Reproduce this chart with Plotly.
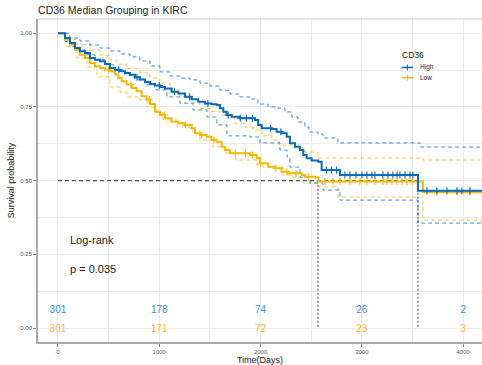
import numpy as np
import plotly.graph_objects as go

title = "CD36 Median Grouping in KIRC"
groups = ["High", "Low"]
colors = {"High": "#0A6BBE", "Low": "#F2BA0A"}
ci_colors = {"High": "rgba(40,130,215,0.9)", "Low": "rgba(245,190,40,0.9)"}

# KM step curves (time in days, survival probability)
high_t = [0, 20, 69, 118, 168, 217, 267, 316, 365, 415, 464, 513, 563, 612, 661, 711, 760, 809, 859, 908, 958,
          1007, 1056, 1122, 1188, 1254, 1320, 1385, 1451, 1517, 1567, 1599, 1632, 1665, 1715, 1797, 1945, 1977,
          2011, 2110, 2159, 2208, 2258, 2290, 2340, 2389, 2422, 2455, 2504, 2570, 2603, 2784, 3554, 4186]
high_s = [1.0, 1.0, 0.984, 0.967, 0.950, 0.939, 0.933, 0.916, 0.910, 0.905, 0.896, 0.882, 0.876, 0.871, 0.865,
          0.859, 0.851, 0.843, 0.835, 0.828, 0.823, 0.818, 0.813, 0.802, 0.796, 0.785, 0.776, 0.768, 0.762, 0.759,
          0.757, 0.746, 0.734, 0.723, 0.717, 0.712, 0.706, 0.689, 0.678, 0.675, 0.666, 0.661, 0.649, 0.627, 0.615,
          0.604, 0.587, 0.576, 0.568, 0.564, 0.536, 0.519, 0.466, 0.466]
high_up_t = [0, 20, 118, 217, 316, 415, 513, 612, 711, 809, 908, 1007, 1106, 1204, 1303, 1402, 1500, 1599, 1698,
             1797, 1895, 1974, 2073, 2172, 2241, 2310, 2369, 2438, 2478, 2567, 2616, 2764, 3574, 4186]
high_up_s = [1.0, 1.0, 0.984, 0.974, 0.960, 0.950, 0.940, 0.930, 0.920, 0.906, 0.889, 0.869, 0.855, 0.848, 0.842,
             0.831, 0.821, 0.807, 0.794, 0.784, 0.777, 0.760, 0.750, 0.746, 0.733, 0.716, 0.699, 0.682, 0.665, 0.658,
             0.645, 0.628, 0.614, 0.614]
high_lo_t = [0, 20, 69, 118, 168, 267, 365, 464, 563, 661, 760, 859, 958, 1076, 1204, 1333, 1471, 1569, 1668, 1895,
             1994, 2191, 2261, 2290, 2389, 2488, 2616, 2784, 3554, 4186]
high_lo_s = [1.0, 1.0, 0.972, 0.955, 0.944, 0.927, 0.910, 0.893, 0.876, 0.859, 0.842, 0.825, 0.808, 0.784, 0.763,
             0.740, 0.716, 0.689, 0.652, 0.648, 0.628, 0.604, 0.580, 0.546, 0.512, 0.492, 0.468, 0.434, 0.356, 0.356]

low_t = [0, 20, 69, 118, 168, 217, 267, 316, 365, 415, 464, 513, 563, 595, 629, 678, 728, 777, 826, 876, 908, 958,
         1007, 1056, 1122, 1188, 1254, 1320, 1352, 1402, 1468, 1517, 1567, 1616, 1649, 1698, 1895, 1962, 1994, 2076,
         2142, 2208, 2273, 2406, 2438, 2537, 2570, 3603, 4186]
low_s = [1.0, 1.0, 0.978, 0.961, 0.944, 0.927, 0.916, 0.899, 0.888, 0.882, 0.876, 0.871, 0.860, 0.848, 0.837, 0.826,
         0.814, 0.803, 0.786, 0.775, 0.760, 0.734, 0.723, 0.712, 0.700, 0.695, 0.689, 0.678, 0.661, 0.655, 0.649,
         0.638, 0.632, 0.615, 0.604, 0.593, 0.587, 0.576, 0.559, 0.547, 0.542, 0.530, 0.525, 0.519, 0.513, 0.511,
         0.497, 0.461, 0.461]
low_up_t = [0, 20, 118, 188, 316, 415, 513, 582, 681, 809, 908, 1007, 1106, 1204, 1303, 1402, 1500, 1599, 1678,
            1747, 1846, 1925, 2014, 2113, 2182, 2310, 2438, 2567, 3603, 4186]
low_up_s = [1.0, 1.0, 0.978, 0.962, 0.943, 0.926, 0.909, 0.895, 0.880, 0.866, 0.848, 0.831, 0.808, 0.784, 0.763,
            0.745, 0.735, 0.723, 0.713, 0.695, 0.682, 0.672, 0.652, 0.638, 0.621, 0.611, 0.597, 0.577, 0.570, 0.570]
low_lo_t = [0, 20, 89, 188, 287, 385, 513, 612, 681, 809, 878, 977, 1037, 1175, 1303, 1402, 1530, 1658, 1757, 1964,
            2024, 2221, 2320, 2419, 2557, 2764, 3603, 4186]
low_lo_s = [1.0, 1.0, 0.954, 0.916, 0.886, 0.852, 0.818, 0.801, 0.784, 0.774, 0.750, 0.730, 0.706, 0.682, 0.672,
            0.638, 0.614, 0.594, 0.570, 0.553, 0.546, 0.519, 0.509, 0.492, 0.479, 0.445, 0.366, 0.366]

# censoring times
high_cens = [600, 780, 1000, 1150, 1300, 1480, 1680, 1800, 1860, 1920, 2100, 2200, 2650, 2700, 2750,
             2833, 2883, 2942, 3001, 3050, 3100, 3129, 3208, 3258, 3307, 3347, 3376, 3426, 3475, 3504,
             3643, 3741, 3840, 3939, 3988, 4067]
low_cens = [500, 720, 900, 1050, 1260, 1420, 1540, 1750, 1850, 1920, 2000, 2150, 2260, 2350, 2470,
            2636, 2715, 2784, 2883, 2981, 3050, 3129, 3208, 3248, 3297, 3347, 3396, 3445, 3495,
            3741, 3939, 4067]

medians = [2567, 3554]
risk_times = [0, 1000, 2000, 3000, 4000]
risk_high = [301, 178, 74, 26, 2]
risk_low = [301, 171, 72, 23, 3]
pval_text = "p = 0.035"


def step_at(ts, ss, x):
    i = np.searchsorted(np.array(ts), x, side="right") - 1
    return np.array(ss)[i]


fig = go.Figure()
series = {
    "High": (high_t, high_s, high_up_t, high_up_s, high_lo_t, high_lo_s, high_cens),
    "Low": (low_t, low_s, low_up_t, low_up_s, low_lo_t, low_lo_s, low_cens),
}
for g in ["Low", "High"]:
    t, s, ut, us, lt, ls, cens = series[g]
    for xx, yy in ((ut, us), (lt, ls)):
        fig.add_trace(go.Scatter(x=xx, y=yy, mode="lines",
                                 line=dict(color=ci_colors[g], width=1, dash="4px,3px", shape="hv"),
                                 showlegend=False, hoverinfo="skip"))

# median lines
fig.add_trace(go.Scatter(x=[0, medians[1]], y=[0.5, 0.5], mode="lines",
                         line=dict(color="#555555", width=1.1, dash="4px,3px"), showlegend=False))
for m in medians:
    fig.add_trace(go.Scatter(x=[m, m], y=[0.5, 0], mode="lines",
                             line=dict(color="#555555", width=1.1, dash="2px,2px"), showlegend=False))

for g in ["Low", "High"]:
    t, s, ut, us, lt, ls, cens = series[g]
    fig.add_trace(go.Scatter(x=t, y=s, mode="lines", line=dict(color=colors[g], width=2, shape="hv"),
                             showlegend=False))
    cy = step_at(t, s, np.array(cens))
    fig.add_trace(go.Scatter(x=cens, y=cy, mode="markers",
                             marker=dict(symbol="cross-thin", size=5, line=dict(color=colors[g], width=1.1)),
                             showlegend=False))

fig.add_trace(go.Scatter(x=risk_times, y=[0.058] * 5, mode="text", text=[str(v) for v in risk_high],
                         textfont=dict(color="#3A8FD6", size=10, family="Liberation Sans"), showlegend=False))
fig.add_trace(go.Scatter(x=risk_times, y=[-0.005] * 5, mode="text", text=[str(v) for v in risk_low],
                         textfont=dict(color="#F5BB2A", size=10, family="Liberation Sans"), showlegend=False))

fig.add_annotation(x=100, y=0.30, text="Log-rank", showarrow=False, xanchor="left",
                   font=dict(size=11, color="#222222"))
fig.add_annotation(x=100, y=0.20, text=pval_text, showarrow=False, xanchor="left",
                   font=dict(size=11, color="#222222"))

# manual compact legend (paper coordinates)
fig.add_annotation(xref="paper", yref="paper", x=0.816, y=0.889, text="CD36", showarrow=False,
                   xanchor="left", yanchor="middle", font=dict(size=8.5, color="#222222"))
for k, g in enumerate(groups):
    yy = 0.850 - k * 0.032
    fig.add_shape(type="line", xref="paper", yref="paper", x0=0.819, x1=0.845, y0=yy, y1=yy,
                  line=dict(color=colors[g], width=1.6))
    fig.add_shape(type="line", xref="paper", yref="paper", x0=0.832, x1=0.832, y0=yy - 0.009, y1=yy + 0.009,
                  line=dict(color=colors[g], width=1))
    fig.add_annotation(xref="paper", yref="paper", x=0.856, y=yy, text=g, showarrow=False,
                       xanchor="left", yanchor="middle", font=dict(size=6.5, color="#222222"))

grid = "#EBEBEB"
fig.update_layout(
    width=482, height=365,
    margin=dict(l=38, r=0, t=19, b=23),
    paper_bgcolor="white", plot_bgcolor="white",
    font=dict(family="Liberation Sans", color="#333333"),
    title=dict(text=title, x=0.079, xanchor="left", y=0.972, yanchor="middle",
               font=dict(size=10.5, color="#222222")),
    showlegend=False,
    xaxis=dict(range=[-197, 4186], tickvals=[0, 1000, 2000, 3000, 4000], ticks="outside", ticklen=3,
               tickcolor="#888888", tickfont=dict(size=6, color="#555555"),
               showgrid=True, gridcolor=grid, gridwidth=1, zeroline=False,
               minor=dict(tickvals=[500, 1500, 2500, 3500], showgrid=True, gridcolor=grid, gridwidth=0.6, ticks=""),
               showline=True, linecolor="#AAAAAA", linewidth=1.5, mirror=False,
               title=dict(text="Time(Days)", font=dict(size=9, color="#222222"), standoff=2)),
    yaxis=dict(range=[-0.0475, 1.0485], tickvals=[0, 0.25, 0.5, 0.75, 1.0],
               ticktext=["0.00", "0.25", "0.50", "0.75", "1.00"],
               ticks="outside", ticklen=3, tickcolor="#888888", tickfont=dict(size=6, color="#555555"),
               showgrid=True, gridcolor=grid, gridwidth=1, zeroline=False,
               minor=dict(tickvals=[0.125, 0.375, 0.625, 0.875], showgrid=True, gridcolor=grid, gridwidth=0.6, ticks=""),
               showline=True, linecolor="#AAAAAA", linewidth=1.5, mirror=False,
               title=dict(text="Survival probability", font=dict(size=9, color="#222222"), standoff=4)),
)
# top panel border
fig.add_shape(type="line", xref="paper", yref="paper", x0=0, x1=1, y0=1, y1=1,
              line=dict(color="#CCCCCC", width=1))

fig.write_html("out.html")
